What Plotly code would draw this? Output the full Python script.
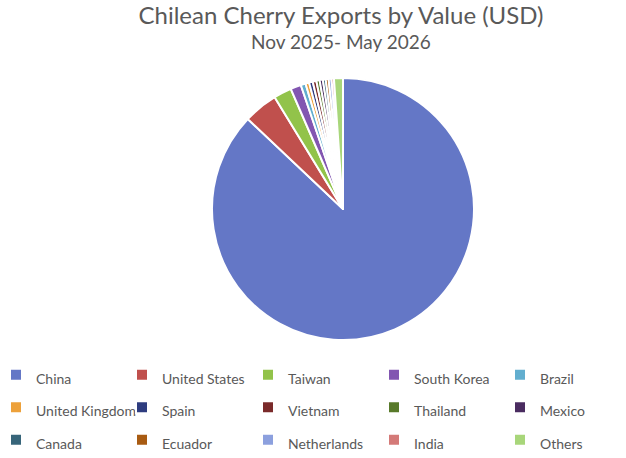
import plotly.graph_objects as go

# share of Chilean cherry export value, %
countries = ['China', 'United States', 'Taiwan', 'South Korea', 'Brazil',
             'United Kingdom', 'Spain', 'Vietnam', 'Thailand', 'Mexico',
             'Canada', 'Ecuador', 'Netherlands', 'India', 'Others']
share = [86.7, 4.2, 2.2, 1.3, 0.6,
         0.45, 0.45, 0.45, 0.4, 0.4,
         0.35, 0.35, 0.35, 0.3, 1.1]
colors = ['#6477C6', '#C0504D', '#92C34A', '#8256B1', '#62AECF',
          '#EDA13A', '#2E3C7F', '#7A2A2A', '#587A2A', '#4A2C60',
          '#37657A', '#A85B12', '#8CA0DE', '#D47A78', '#A8D67A']

W, H = 626, 458
ML, MB = 20, 100            # fixed margins; the legend sits in the bottom one
PW, PH = W - ML, H - MB     # plot area size
cx, cy, r = 343, 209, 131   # pie centre / radius in pixels
title_cx = 341

# legend rows are taller than the text, so the legend font is large and the label text smaller
legend_labels = ['<span style="font-size:14px">%s</span>' % c for c in countries]

fig = go.Figure(go.Pie(
    labels=legend_labels, values=share, sort=False, direction='clockwise', rotation=0,
    marker=dict(colors=colors, line=dict(color='white', width=2)),
    textinfo='none', hoverinfo='label+percent',
    domain=dict(x=[(cx - r - ML) / PW, (cx + r - ML) / PW],
                y=[1 - (cy + r) / PH, 1 - (cy - r) / PH]),
))

fig.update_layout(
    width=W, height=H,
    margin=dict(l=ML, r=0, t=0, b=MB, autoexpand=False),
    paper_bgcolor='white', plot_bgcolor='white',
    font=dict(family='Lato', color='#595959'),
    title=dict(text='Chilean Cherry Exports by Value (USD)', x=title_cx / W, xanchor='center',
               xref='container', y=1 - 16 / H, yanchor='middle', yref='container',
               font=dict(size=24, color='#595959')),
    annotations=[dict(text='Nov 2025- May 2026', x=(title_cx - ML) / PW, y=1 - 41 / PH,
                      xref='paper', yref='paper', xanchor='center', yanchor='middle',
                      showarrow=False, font=dict(size=19, color='#595959'))],
    legend=dict(orientation='h', x=-(ML + 4) / PW, xanchor='left',
                y=-(461.5 - PH) / PH, yanchor='bottom', bgcolor='rgba(0,0,0,0)',
                entrywidth=81, entrywidthmode='pixels', itemwidth=30,
                font=dict(size=22.7, color='#595959')),
)

# the page body has a default 8px margin; drop it so the figure sits at the window corner
fig.write_html("out.html", config={'displayModeBar': False},
               post_script="document.body.style.margin='0';")
